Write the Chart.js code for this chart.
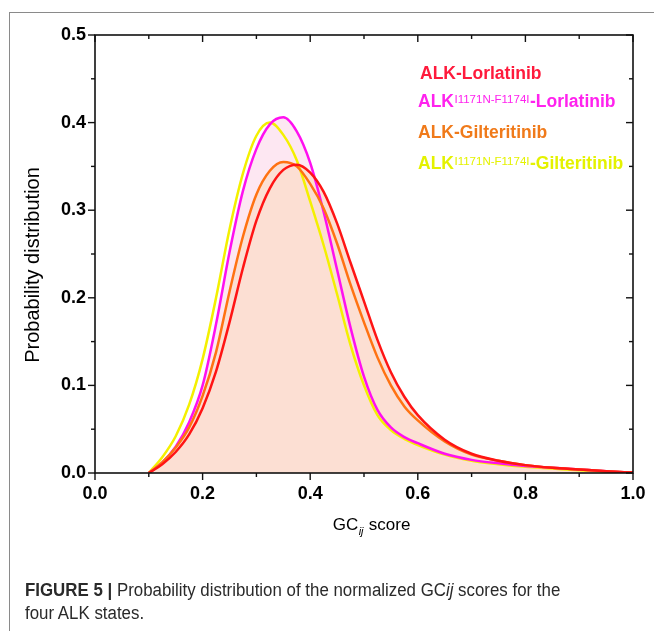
<!DOCTYPE html>
<html><head><meta charset="utf-8">
<script src="https://cdn.jsdelivr.net/npm/chart.js@4.4.0/dist/chart.umd.min.js"></script>
<style>
html,body{margin:0;padding:0;background:#fff;}
#wrap{position:relative;width:654px;height:631px;overflow:hidden;}
#frame{position:absolute;left:9px;top:12px;width:700px;height:700px;border-top:1.5px solid #8a8a8a;border-left:1.5px solid #8a8a8a;}
canvas{position:absolute;left:0;top:0;}
#cap{position:absolute;left:25px;top:579px;font-family:'Liberation Sans',Arial,sans-serif;font-size:18px;line-height:23px;color:#2a2a2a;white-space:nowrap;transform:scaleX(0.937);transform-origin:0 0;}
</style></head><body>
<div id="wrap"><div id="frame"></div><canvas id="c" width="654" height="631"></canvas>
<div id="cap"><b>FIGURE 5 |</b> Probability distribution of the normalized GC<i>ij</i> scores for the<br>four ALK states.</div></div>
<script>
const xValues = [0.10,0.125,0.15,0.175,0.20,0.225,0.25,0.275,0.30,0.325,0.35,0.375,0.40,0.425,0.45,0.475,0.50,0.525,0.55,0.575,0.60,0.65,0.70,0.75,0.80,0.85,0.90,0.95,1.00];
const alkLorlatinib   = [0,0.010,0.024,0.044,0.074,0.116,0.172,0.234,0.288,0.325,0.346,0.352,0.343,0.321,0.285,0.240,0.196,0.152,0.115,0.087,0.066,0.038,0.022,0.014,0.009,0.006,0.004,0.002,0.0005];
const mutLorlatinib   = [0,0.012,0.030,0.058,0.100,0.170,0.252,0.322,0.370,0.398,0.406,0.390,0.354,0.298,0.232,0.166,0.110,0.072,0.052,0.041,0.034,0.022,0.015,0.011,0.008,0.006,0.004,0.002,0.0005];
const alkGilteritinib = [0,0.012,0.029,0.052,0.088,0.138,0.207,0.270,0.318,0.345,0.355,0.350,0.330,0.302,0.262,0.215,0.172,0.132,0.100,0.076,0.060,0.036,0.021,0.014,0.009,0.006,0.004,0.002,0.0005];
const mutGilteritinib = [0,0.018,0.042,0.078,0.130,0.200,0.278,0.342,0.385,0.400,0.386,0.357,0.310,0.260,0.204,0.146,0.100,0.066,0.049,0.039,0.032,0.021,0.014,0.010,0.007,0.005,0.003,0.0015,0.0005];
const xTicks = [0,0.2,0.4,0.6,0.8,1.0];
const yTicks = [0,0.1,0.2,0.3,0.4,0.5];
const legendBase = ['ALK','ALK','ALK','ALK'];
const legendSup = ['','I1171N-F1174I','','I1171N-F1174I'];
const legendDrug = ['-Lorlatinib','-Lorlatinib','-Gilteritinib','-Gilteritinib'];
const lineColors = ['#ff1414','#ff10f0','#ff7212','#f4f000'];
const textColors = ['#ff1a3c','#ff22ee','#f07a1a','#e4f200'];

const pts = ys => xValues.map((x,i)=>({x:x,y:ys[i]}));
const PEACH = '#fcdfd3', PINK = '#fde7f2';
const FONT = '"Liberation Sans", Arial, sans-serif';

const deco = {
  id:'deco',
  afterDraw(chart){
    const ctx = chart.ctx, a = chart.chartArea, xs = chart.scales.x, ys = chart.scales.y;
    ctx.save();
    ctx.strokeStyle = '#111'; ctx.lineWidth = 1.6;
    ctx.strokeRect(a.left, a.top, a.right-a.left, a.bottom-a.top);
    ctx.lineWidth = 1.4;
    for (let k=0;k<=10;k++){
      const v = k/10, px = xs.getPixelForValue(v), major = k%2===0;
      const L = major?7:4;
      ctx.beginPath(); ctx.moveTo(px,a.bottom); ctx.lineTo(px,a.bottom+L); ctx.stroke();
      ctx.beginPath(); ctx.moveTo(px,a.top); ctx.lineTo(px,a.top+L); ctx.stroke();
    }
    for (let k=0;k<=10;k++){
      const v = k*0.05, py = ys.getPixelForValue(v), major = k%2===0;
      const L = major?7:4;
      ctx.beginPath(); ctx.moveTo(a.left,py); ctx.lineTo(a.left-L,py); ctx.stroke();
      ctx.beginPath(); ctx.moveTo(a.right,py); ctx.lineTo(a.right-L,py); ctx.stroke();
    }
    // axis titles
    ctx.fillStyle = '#000';
    ctx.textBaseline = 'alphabetic';
    ctx.font = '17px ' + FONT;
    const cx = (a.left+a.right)/2 + 7, by = 530;
    const w1 = ctx.measureText('GC').width;
    ctx.font = 'italic 11px ' + FONT;
    const w2 = ctx.measureText('ij').width;
    ctx.font = '17px ' + FONT;
    const w3 = ctx.measureText(' score').width;
    let sx = cx - (w1+w2+w3)/2;
    ctx.textAlign = 'left';
    ctx.fillText('GC', sx, by);
    ctx.font = 'italic 11px ' + FONT;
    ctx.fillText('ij', sx+w1+0.5, by+5);
    ctx.font = '17px ' + FONT;
    ctx.fillText(' score', sx+w1+w2+1, by);
    ctx.save();
    ctx.translate(39, 265); ctx.rotate(-Math.PI/2);
    ctx.textAlign = 'center';
    ctx.font = '20px ' + FONT;
    ctx.fillText('Probability distribution', 0, 0);
    ctx.restore();
    // legend
    const baselines = [79,107,138,169];
    for (let i=0;i<4;i++){
      let x = i===0?420:418; const b = baselines[i];
      ctx.fillStyle = textColors[i];
      ctx.textAlign = 'left';
      ctx.font = 'bold 17.5px ' + FONT;
      ctx.fillText(legendBase[i], x, b); x += ctx.measureText(legendBase[i]).width;
      if (legendSup[i]) {
        ctx.font = '11.5px ' + FONT;
        ctx.fillText(legendSup[i], x+0.5, b-4.5); x += ctx.measureText(legendSup[i]).width+1;
      }
      ctx.font = 'bold 17.5px ' + FONT;
      ctx.fillText(legendDrug[i], x, b);
    }
    ctx.restore();
  }
};

new Chart(document.getElementById('c'), {
  type:'line',
  data:{datasets:[
    {label:'ALK-Lorlatinib', data:pts(alkLorlatinib), borderColor:lineColors[0], backgroundColor:PEACH, fill:'origin', order:1},
    {label:'ALK I1171N-F1174I-Lorlatinib', data:pts(mutLorlatinib), borderColor:lineColors[1], backgroundColor:PINK, fill:'origin', order:4},
    {label:'ALK-Gilteritinib', data:pts(alkGilteritinib), borderColor:lineColors[2], backgroundColor:PEACH, fill:'origin', order:2},
    {label:'ALK I1171N-F1174I-Gilteritinib', data:pts(mutGilteritinib), borderColor:lineColors[3], backgroundColor:'rgba(0,0,0,0)', fill:false, order:5}
  ]},
  options:{
    responsive:false, animation:false,
    layout:{padding:{left:0,top:35,right:21,bottom:0}},
    elements:{line:{borderWidth:2.5, cubicInterpolationMode:'monotone'}, point:{radius:0}},
    plugins:{legend:{display:false}, tooltip:{enabled:false}, filler:{drawTime:'beforeDatasetsDraw'}},
    scales:{
      x:{type:'linear', min:0, max:1, grid:{display:false}, border:{display:false},
        afterBuildTicks(s){ s.ticks = xTicks.map(v=>({value:v})); },
        afterFit(s){ s.height = 158; },
        ticks:{padding:2, color:'#000', font:{family:FONT, size:18, weight:'bold'}, callback:v=>Number(v).toFixed(1), maxRotation:0, autoSkip:false}},
      y:{type:'linear', min:0, max:0.5, grid:{display:false}, border:{display:false},
        afterBuildTicks(s){ s.ticks = yTicks.map(v=>({value:v})); },
        afterFit(s){ s.width = 95; },
        ticks:{padding:1, color:'#000', font:{family:FONT, size:18, weight:'bold'}, callback:v=>Number(v).toFixed(1)}}
    }
  },
  plugins:[deco]
});
</script></body></html>
